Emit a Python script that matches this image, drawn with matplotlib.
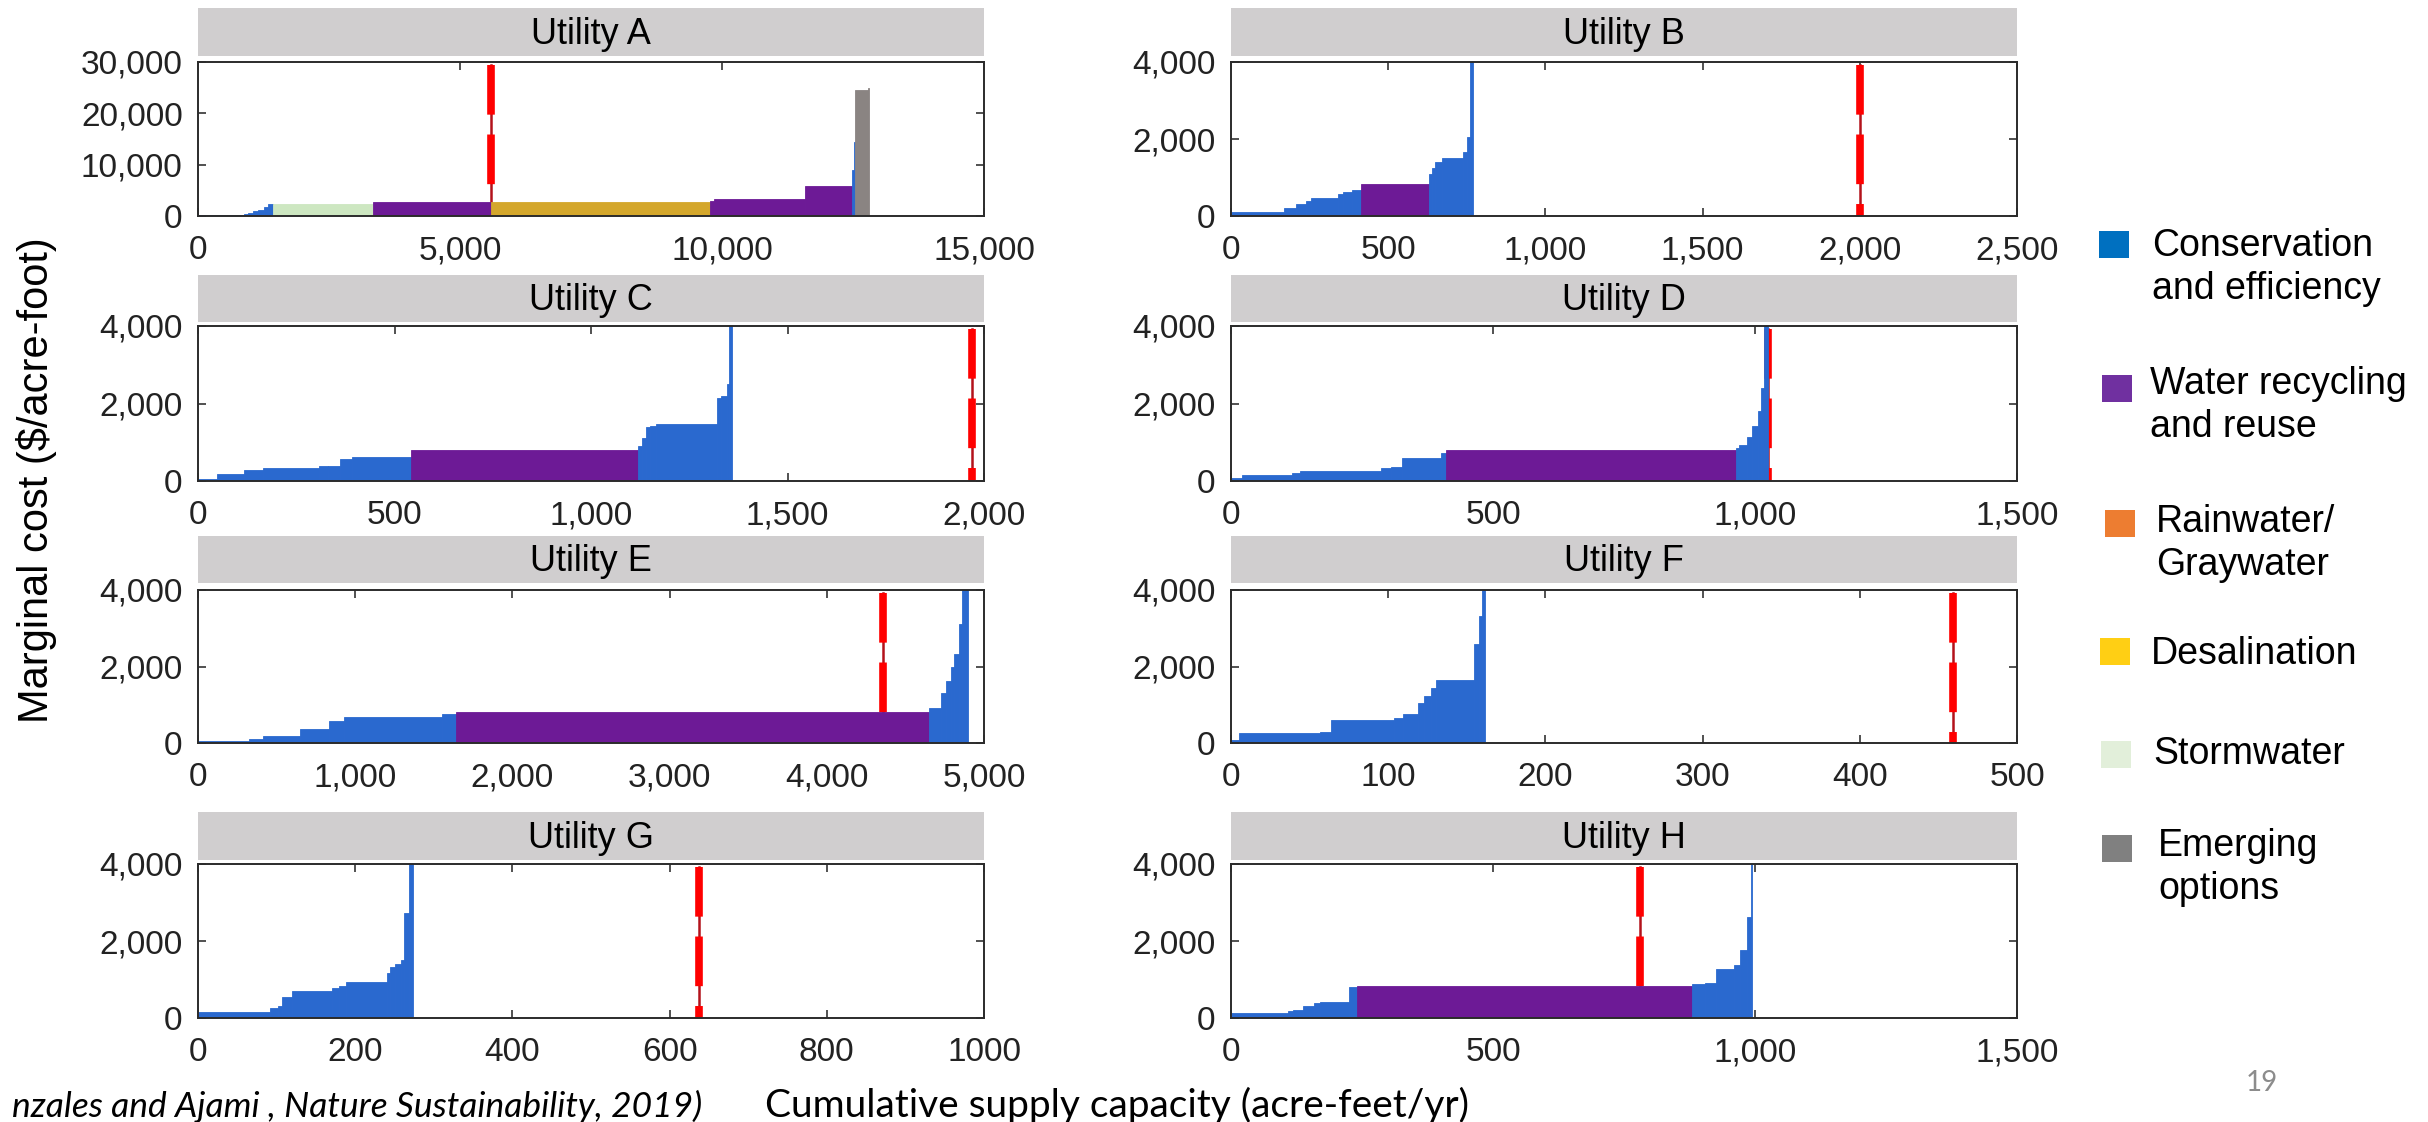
import matplotlib
matplotlib.use("Agg")
import matplotlib.pyplot as plt
from matplotlib.patches import Rectangle

# option types: 0 conservation, 1 recycling, 2 rainwater, 3 desalination, 4 stormwater, 5 emerging
legend_labels = ["Conservation\nand efficiency", "Water recycling\nand reuse", "Rainwater/\nGraywater",
                 "Desalination", "Stormwater", "Emerging\noptions"]
legend_colors = ["#0070C0", "#7030A0", "#ED7D31", "#FFCF14", "#E2EFDA", "#808080"]
bar_colors = ["#2A69CF", "#6D1A96", "#ED7D31", "#D4A72C", "#CDE7C1", "#8A8482"]

utility_names = ["Utility A", "Utility B", "Utility C", "Utility D",
                 "Utility E", "Utility F", "Utility G", "Utility H"]

# cumulative supply at the right edge of each step, marginal cost, option type
a_end = [560, 880, 960, 1050, 1150, 1250, 1330, 1440, 3340, 5600, 9770, 9850, 11580, 12490, 12510, 12530, 12780, 12800]
a_cost = [100, 250, 450, 650, 900, 1250, 1700, 2300, 2300, 2750, 2750, 3000, 3250, 5900, 9000, 14500, 24500, 25000]
a_type = [0, 0, 0, 0, 0, 0, 0, 0, 4, 1, 3, 1, 1, 1, 0, 0, 5, 5]

b_end = [168, 208, 240, 255, 340, 355, 385, 415, 631, 640, 650, 670, 739, 750, 760, 770]
b_cost = [100, 200, 300, 400, 480, 560, 620, 680, 820, 1100, 1250, 1400, 1500, 1650, 2050, 5000]
b_type = [0, 0, 0, 0, 0, 0, 0, 0, 1, 0, 0, 0, 0, 0, 0, 0]

c_end = [48, 116, 166, 307, 330, 362, 393, 541, 1120, 1130, 1140, 1150, 1165, 1321, 1330, 1345, 1352, 1360]
c_cost = [50, 190, 290, 330, 380, 400, 560, 630, 800, 900, 1100, 1400, 1430, 1470, 2150, 2200, 2500, 5000]
c_type = [0, 0, 0, 0, 0, 0, 0, 0, 1, 0, 0, 0, 0, 0, 0, 0, 0, 0]

d_end = [21, 116, 131, 286, 305, 327, 401, 411, 963, 970, 985, 995, 1005, 1012, 1018, 1025]
d_cost = [80, 150, 210, 265, 330, 370, 595, 720, 810, 840, 920, 1140, 1430, 1800, 2400, 5000]
d_type = [0, 0, 0, 0, 0, 0, 0, 0, 1, 0, 0, 0, 0, 0, 0, 0]

e_end = [322, 415, 648, 835, 929, 1550, 1644, 4647, 4727, 4760, 4790, 4810, 4840, 4860, 4900]
e_cost = [60, 104, 174, 364, 580, 685, 764, 816, 928, 1300, 1630, 2000, 2320, 3120, 5000]
e_type = [0, 0, 0, 0, 0, 0, 0, 1, 0, 0, 0, 0, 0, 0, 0]

f_end = [4.9, 56.8, 63.7, 103.5, 109.6, 118.9, 123, 127.4, 130.3, 154.6, 157.9, 159.5, 161.5]
f_cost = [80, 260, 286, 598, 650, 762, 1040, 1220, 1450, 1645, 2590, 3325, 5000]
f_type = [0] * 13

g_end = [92, 102, 107, 119, 171, 179, 188, 240, 244, 250, 258, 262, 269, 273]
g_cost = [155, 268, 300, 544, 691, 769, 821, 933, 1158, 1322, 1408, 1500, 2730, 5000]
g_type = [0] * 14

h_end = [109, 119, 137, 159, 170, 225, 240, 880, 904, 926, 959, 971, 985, 992, 995]
h_cost = [129, 180, 200, 318, 378, 413, 800, 826, 886, 920, 1264, 1376, 1763, 2623, 5000]
h_type = [0, 0, 0, 0, 0, 0, 0, 1, 0, 0, 0, 0, 0, 0, 0]

# current demand (red dashed line)
demand = [5600, 2000, 1970, 1025, 4360, 459, 638, 781]

x_ticks = [[0, 5000, 10000, 15000],
           [0, 500, 1000, 1500, 2000, 2500],
           [0, 500, 1000, 1500, 2000],
           [0, 500, 1000, 1500],
           [0, 1000, 2000, 3000, 4000, 5000],
           [0, 100, 200, 300, 400, 500],
           [0, 200, 400, 600, 800, 1000],
           [0, 500, 1000, 1500]]
y_ticks_a = [0, 10000, 20000, 30000]
y_ticks = [0, 2000, 4000]

ends = [a_end, b_end, c_end, d_end, e_end, f_end, g_end, h_end]
costs = [a_cost, b_cost, c_cost, d_cost, e_cost, f_cost, g_cost, h_cost]
types = [a_type, b_type, c_type, d_type, e_type, f_type, g_type, h_type]

W, H = 2428, 1122
fig = plt.figure(figsize=(W / 100, H / 100), dpi=100)
fig.patch.set_facecolor("white")

TICK_FONT = "Liberation Sans"

# layout in pixels (from top-left)
col_left = [198, 1231]
ax_w = 786
rows = [(62, 216, 8, 56), (326, 481, 275, 322), (590, 743, 536, 583), (864, 1018, 812, 860)]


def fig_rect(x0, y_top, w, y_bot):
    return [x0 / W, 1 - y_bot / H, w / W, (y_bot - y_top) / H]


for i, name in enumerate(utility_names):
    r, c = divmod(i, 2)
    ax_top, ax_bot, st_top, st_bot = rows[r]
    x0 = col_left[c]

    # grey strip with title
    sax = fig.add_axes(fig_rect(x0, st_top, ax_w, st_bot))
    sax.set_facecolor("#D0CECF")
    sax.set_xticks([])
    sax.set_yticks([])
    for sp in sax.spines.values():
        sp.set_visible(False)
    sax.text(0.5, 0.45, name, ha="center", va="center", fontsize=26,
             family=TICK_FONT, color="black", transform=sax.transAxes)

    ax = fig.add_axes(fig_rect(x0, ax_top, ax_w, ax_bot))
    end = ends[i]
    starts = [0] + end[:-1]
    widths = [e - s for s, e in zip(starts, end)]
    cols = [bar_colors[t] for t in types[i]]
    ax.bar(starts, costs[i], width=widths, align="edge", color=cols,
           edgecolor=cols, linewidth=0.6, zorder=3)

    ymax = 30000 if i == 0 else 4000
    top = ymax * 0.982
    ax.plot([demand[i], demand[i]], [top, 0], color="#B3121B", lw=1.8, zorder=2)
    ax.plot([demand[i], demand[i]], [top, 0], color="#FF0000", lw=5.5,
            dashes=(6.5, 2.6), solid_capstyle="butt", zorder=2.5)

    xt = x_ticks[i]
    ax.set_xlim(xt[0], xt[-1])
    ax.set_ylim(0, ymax)
    ax.set_xticks(xt)
    if name == "Utility G":
        ax.set_xticklabels([str(v) for v in xt])
    else:
        ax.set_xticklabels([f"{v:,}" for v in xt])
    yt = y_ticks_a if i == 0 else y_ticks
    ax.set_yticks(yt)
    ax.set_yticklabels([f"{v:,}" for v in yt])
    ax.tick_params(direction="in", top=True, right=True, length=6, width=1.1,
                   labelsize=24, colors="#222222", pad=11)
    ax.tick_params(axis="x", pad=14)
    for lab in ax.get_xticklabels() + ax.get_yticklabels():
        lab.set_family(TICK_FONT)
    for sp in ax.spines.values():
        sp.set_linewidth(1.4)
        sp.set_color("#2b2b2b")
        sp.set_zorder(4)

# y-axis label
fig.text(37 / W, 1 - 480 / H, "Marginal cost ($/acre-foot)", rotation=90,
         ha="center", va="center", fontsize=30, family=TICK_FONT, color="black")

# legend
sq_x = [2099, 2102, 2105, 2100, 2101, 2102]
sq_top = [231, 375, 510, 638, 741, 835]
txt_x = [2152, 2150, 2156, 2151, 2153, 2158]
txt_base = [256.5, 394, 532, 664, 764, 856]
for k, lab in enumerate(legend_labels):
    fig.patches.append(Rectangle((sq_x[k] / W, 1 - (sq_top[k] + 27) / H), 30 / W, 27 / H,
                                 transform=fig.transFigure, facecolor=legend_colors[k],
                                 edgecolor="none"))
    for j, line in enumerate(lab.split("\n")):
        fig.text(txt_x[k] / W, 1 - (txt_base[k] + 43 * j) / H, line, ha="left",
                 va="baseline", fontsize=27, family=TICK_FONT, color="black")

# footer texts
fig.text(702 / W, 5 / H, "nzales and Ajami , Nature Sustainability, 2019)", ha="right",
         va="baseline", fontsize=25.5, family="Lato", style="italic", color="black")
fig.text(765 / W, 5 / H, "Cumulative supply capacity (acre-feet/yr)", ha="left",
         va="baseline", fontsize=28, family="Lato", color="black")
fig.text(2262 / W, 31 / H, "19", ha="center", va="baseline", fontsize=20,
         family="Lato", color="#8C8C8C")

fig.savefig("out.png", dpi=100, facecolor="white")
